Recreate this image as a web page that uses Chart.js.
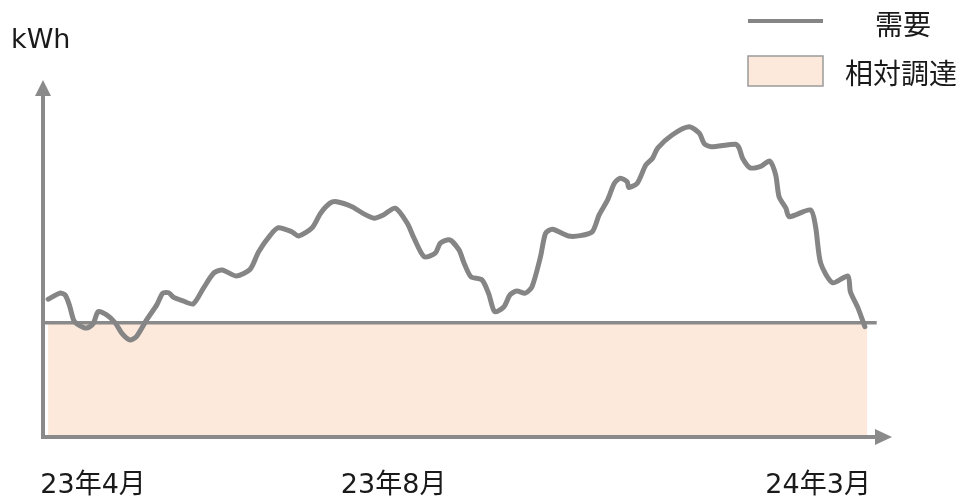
<!DOCTYPE html>
<html>
<head>
<meta charset="utf-8">
<script src="https://cdn.jsdelivr.net/npm/chart.js@4.4.1/dist/chart.umd.min.js"></script>
<style>
  html, body { margin: 0; padding: 0; background: #fff; }
  #wrap { width: 964px; height: 502px; }
</style>
</head>
<body>
<div id="wrap"><canvas id="chart" width="964" height="502"></canvas></div>
<script>
// Demand curve (x = progress through the year 0..100, y = relative kWh 0..100)
const demandX = [0.6, 2.0, 2.6, 3.1, 3.6, 4.0, 5.1, 5.9, 6.5, 7.5, 8.5, 9.3, 10.2, 11.0, 12.2, 13.4, 14.1, 14.8, 15.4, 16.5,
  17.7, 18.9, 20.1, 21.1, 22.8, 24.4, 25.4, 26.8, 27.7, 29.3, 30.1, 31.7, 32.7, 33.8, 34.6, 36.4, 37.8, 39.0, 40.1, 41.5,
  42.9, 43.7, 44.9, 46.2, 46.8, 47.9, 49.0, 49.6, 50.4, 51.7, 52.5, 53.2, 54.3, 55.0, 55.8, 56.8, 57.6, 58.6, 59.2, 60.0,
  61.9, 63.3, 64.7, 65.5, 66.5, 67.3, 68.0, 68.8, 69.0, 70.0, 71.0, 71.8, 72.4, 74.1, 76.1, 77.3, 77.9, 78.7, 81.6, 82.0,
  82.4, 83.3, 84.6, 85.6, 86.3, 86.7, 87.5, 87.9, 90.4, 91.0, 91.6, 93.0, 94.8, 95.1, 96.0, 96.8];
const demandY = [38.6, 40.3, 39.8, 37.0, 32.8, 31.7, 30.5, 31.7, 35.1, 34.2, 32.0, 29.0, 27.2, 28.1, 32.8, 37.0, 40.3, 40.4, 39.1, 38.1,
  37.3, 41.7, 45.9, 46.8, 45.1, 47.0, 51.9, 56.6, 58.6, 57.5, 56.3, 58.6, 62.7, 65.5, 65.9, 64.5, 62.5, 61.3, 62.2, 64.1,
  59.9, 55.7, 50.5, 51.5, 54.3, 55.2, 52.4, 48.7, 44.9, 44.0, 40.1, 35.1, 36.5, 39.8, 40.9, 40.3, 42.1, 50.5, 57.1, 58.2,
  56.3, 56.4, 57.5, 62.2, 66.4, 71.1, 72.5, 71.5, 69.9, 71.1, 76.2, 78.1, 80.9, 84.6, 86.9, 85.1, 82.1, 81.3, 82.0, 80.9,
  78.1, 75.4, 75.9, 77.3, 73.4, 67.3, 64.1, 61.7, 63.6, 58.9, 48.7, 43.2, 45.1, 40.7, 36.1, 30.9];

// Relative procurement: flat level across the year
const procureLevel = 32;
const procureX = [0.6, 97.1];
const levelLineX = [0, 98.2];

// Month labels and their positions on the x scale
const monthTicks = [5.9, 41.3, 91.3];
const monthLabels = ['23年4月', '23年8月', '24年3月'];

const seriesNames = ['需要', '相対調達'];
const unitLabel = 'kWh';

const grayLine = '#858585';
const grayAxis = '#8a8a8a';
const peach = '#fce9db';
const textColor = '#1a1a1a';
const fontFamily = '"DejaVu Sans", "Noto Sans CJK JP", sans-serif';
const cjkFamily = '"Noto Sans CJK JP", sans-serif';

const demandData = demandX.map((x, i) => ({ x: x, y: demandY[i] }));
const procureData = procureX.map(x => ({ x: x, y: procureLevel }));
const levelData = levelLineX.map(x => ({ x: x, y: procureLevel }));

// axes with arrows, labels and legend
const decorPlugin = {
  id: 'decor',
  afterDatasetsDraw(chart) {
    const ctx = chart.ctx;
    const xs = chart.scales.x, ys = chart.scales.y;
    const x0 = xs.getPixelForValue(0), y0 = ys.getPixelForValue(0);
    const xEnd = xs.getPixelForValue(xs.max), yEnd = ys.getPixelForValue(ys.max);
    ctx.save();
    ctx.strokeStyle = grayAxis;
    ctx.fillStyle = grayAxis;
    ctx.lineWidth = 4;
    ctx.beginPath();
    ctx.moveTo(x0, y0 + 2);
    ctx.lineTo(x0, yEnd + 14);
    ctx.moveTo(x0 - 2, y0);
    ctx.lineTo(xEnd - 14, y0);
    ctx.stroke();
    // arrow heads
    ctx.beginPath();
    ctx.moveTo(x0, yEnd);
    ctx.lineTo(x0 - 8, yEnd + 16);
    ctx.lineTo(x0 + 8, yEnd + 16);
    ctx.closePath();
    ctx.fill();
    ctx.beginPath();
    ctx.moveTo(xEnd, y0);
    ctx.lineTo(xEnd - 17, y0 - 8);
    ctx.lineTo(xEnd - 17, y0 + 8);
    ctx.closePath();
    ctx.fill();

    // texts
    ctx.fillStyle = textColor;
    ctx.textBaseline = 'middle';
    ctx.font = '27px ' + fontFamily;
    ctx.textAlign = 'left';
    ctx.fillText(unitLabel, 11, 41);
    ctx.textAlign = 'center';
    monthTicks.forEach((v, i) => {
      ctx.fillText(monthLabels[i], xs.getPixelForValue(v), 486);
    });

    // legend
    ctx.font = '28px ' + cjkFamily;
    ctx.textAlign = 'left';
    ctx.strokeStyle = grayLine;
    ctx.lineWidth = 4;
    ctx.beginPath();
    ctx.moveTo(748, 21);
    ctx.lineTo(823, 21);
    ctx.stroke();
    ctx.fillText(seriesNames[0], 875, 24);
    ctx.fillStyle = peach;
    ctx.fillRect(748, 56, 75, 30);
    ctx.strokeStyle = '#9a9a9a';
    ctx.lineWidth = 1.5;
    ctx.strokeRect(748, 56, 75, 30);
    ctx.fillStyle = textColor;
    ctx.fillText(seriesNames[1], 845, 73);
    ctx.restore();
  }
};

new Chart(document.getElementById('chart'), {
  type: 'line',
  data: {
    datasets: [{
      label: seriesNames[0],
      data: demandData,
      borderColor: grayLine,
      borderWidth: 5,
      pointRadius: 0,
      tension: 0.25,
      borderJoinStyle: 'round',
      borderCapStyle: 'round',
      fill: false,
      order: 0
    }, {
      label: 'level',
      data: levelData,
      borderColor: grayAxis,
      borderWidth: 3.5,
      pointRadius: 0,
      fill: false,
      order: 1
    }, {
      label: seriesNames[1],
      data: procureData,
      borderWidth: 0,
      borderColor: 'rgba(0,0,0,0)',
      backgroundColor: peach,
      pointRadius: 0,
      fill: 'origin',
      order: 2
    }]
  },
  options: {
    responsive: false,
    animation: false,
    layout: { padding: { left: 43, right: 72, top: 80, bottom: 65 } },
    plugins: { legend: { display: false }, tooltip: { enabled: false } },
    scales: {
      x: { type: 'linear', min: 0, max: 100, display: false },
      y: { min: 0, max: 100, display: false }
    }
  },
  plugins: [decorPlugin]
});
</script>
</body>
</html>
